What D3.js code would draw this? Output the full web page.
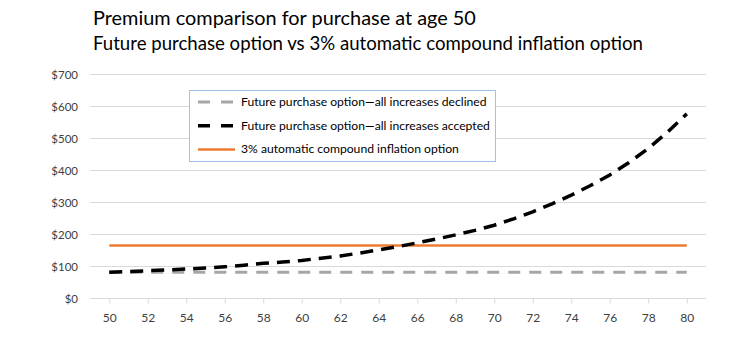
<!DOCTYPE html>
<html><head><meta charset="utf-8">
<script src="https://cdn.jsdelivr.net/npm/d3@7"></script>
<style>body{margin:0;background:#fff}svg{display:block}</style>
</head><body>
<svg id="c" width="743" height="357"></svg>
<script>
const titleLines = ["Premium comparison for purchase at age 50", "Future purchase option vs 3% automatic compound inflation option"];
const ages = d3.range(50, 81);
const declined = [82,82,82,82,82,82,82,82,82,82,82,82,82,82,82,82,82,82,82,82,82,82,82,82,82,82,82,82,82,82,82];
const accepted = [82,84,87,89,92,95,99,104,110,114,119,126,133,142,152,162,174,186,199,213,229,249,271,296,323,353,386,425,469,520,577];
const inflation = [166,166,166,166,166,166,166,166,166,166,166,166,166,166,166,166,166,166,166,166,166,166,166,166,166,166,166,166,166,166,166];
const yTicks = [0,100,200,300,400,500,600,700];
const xTicks = d3.range(50, 81, 2);
const seriesNames = ["Future purchase option\u2014all increases declined","Future purchase option\u2014all increases accepted","3% automatic compound inflation option"];

const font = "Lato, 'Open Sans', sans-serif";
const svg = d3.select("#c");
const x = d3.scaleLinear().domain([49, 81]).range([90, 706]);
const y = d3.scaleLinear().domain([0, 700]).range([298.5, 74.5]);

function fit(el, base, target) {
  const w = el.node().getComputedTextLength();
  el.attr("font-size", base * target / w);
}

// title
const tw = [383, 550];
titleLines.forEach((t, i) => {
  const el = svg.append("text").attr("x", 93).attr("y", 25 + i*25)
    .attr("font-family", font).attr("font-size", 18).attr("fill", "#000").text(t);
  fit(el, 18, tw[i]);
});

// grid
svg.append("g").selectAll("line").data(yTicks).join("line")
  .attr("x1", 90).attr("x2", 706).attr("y1", d => y(d)).attr("y2", d => y(d))
  .attr("stroke", "#d9d9d9").attr("stroke-width", 1);

// y axis labels
const ya = svg.append("g").attr("transform", "translate(90,0)")
  .call(d3.axisLeft(y).tickValues(yTicks).tickSize(0).tickPadding(12).tickFormat(d => "$" + d));
ya.select(".domain").remove();
ya.selectAll("text").attr("font-family", font).attr("font-size", 11.5).attr("fill", "#404040");

// x axis
const xa = svg.append("g").attr("transform", "translate(0,298.5)")
  .call(d3.axisBottom(x).tickValues(xTicks).tickSize(5).tickPadding(10).tickFormat(d3.format("d")));
xa.select(".domain").remove();
xa.selectAll("line").attr("stroke", "#d9d9d9");
xa.selectAll("text").attr("font-family", font).attr("font-size", 12).attr("fill", "#404040");

const line = d3.line().x((d, i) => x(ages[i])).y(d => y(d));
svg.append("path").datum(declined).attr("d", line).attr("fill", "none")
  .attr("stroke", "#a6a6a6").attr("stroke-width", 3).attr("stroke-dasharray", "12,9");
svg.append("path").datum(inflation).attr("d", line).attr("fill", "none")
  .attr("stroke", "#ed7d31").attr("stroke-width", 2.5);
svg.append("path").datum(accepted).attr("d", line).attr("fill", "none")
  .attr("stroke", "#000").attr("stroke-width", 3.5).attr("stroke-dasharray", "13,8");

// legend
const lg = svg.append("g");
lg.append("rect").attr("x", 189.5).attr("y", 90.5).attr("width", 306).attr("height", 71)
  .attr("fill", "#fff").attr("stroke", "#9dc3e6").attr("stroke-width", 1);
const styles = [
  {c: "#a6a6a6", w: 3, da: "12,11"},
  {c: "#000", w: 3.5, da: "12,11"},
  {c: "#ed7d31", w: 2.5, da: null}
];
seriesNames.forEach((n, i) => {
  const yy = 102 + i * 23.7;
  const l = lg.append("line").attr("x1", 198).attr("x2", 235).attr("y1", yy).attr("y2", yy)
    .attr("stroke", styles[i].c).attr("stroke-width", styles[i].w);
  if (styles[i].da) l.attr("stroke-dasharray", styles[i].da);
  const t = lg.append("text").attr("x", 241).attr("y", yy + 4).attr("font-family", font)
    .attr("font-size", 11).attr("fill", "#000").text(n);
  if (i === 0) fit(t, 11, 246);
});
// apply the same size to all legend entries
const lsize = lg.select("text").attr("font-size");
lg.selectAll("text").attr("font-size", lsize);
</script>
</body></html>
